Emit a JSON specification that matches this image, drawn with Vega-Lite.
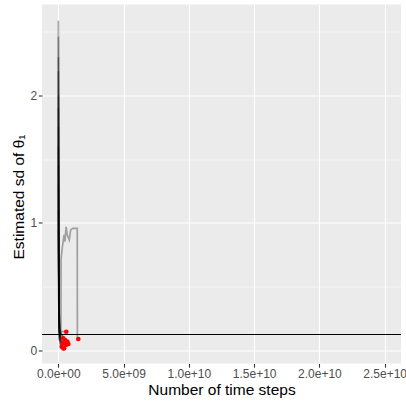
{
  "$schema": "https://vega.github.io/schema/vega-lite/v6.json",
  "width": 359,
  "height": 359,
  "autosize": {"type": "none"},
  "padding": {"left": 42, "top": 4.5, "right": 5, "bottom": 38.5},
  "background": "white",
  "config": {
    "view": {"fill": "#EBEBEB", "stroke": null},
    "font": "Liberation Sans",
    "axis": {
      "domain": false,
      "grid": true,
      "gridColor": "#FFFFFF",
      "gridOpacity": 1,
      "tickColor": "#333333",
      "tickSize": 3.7,
      "tickWidth": 1.07,
      "labelColor": "#4D4D4D",
      "labelFontSize": 12,
      "labelFont": "Liberation Sans",
      "titleFont": "Liberation Sans",
      "titleFontSize": 15.5,
      "titleFontWeight": "normal",
      "titleColor": "black",
      "labelFlush": false,
      "labelOverlap": false
    }
  },
  "datasets": {
    "runs": [
      {"run": "A", "step": 1, "x": 5000000, "y": 2.585},
      {"run": "A", "step": 2, "x": 20000000, "y": 1.4},
      {"run": "A", "step": 3, "x": 40000000, "y": 0.5},
      {"run": "A", "step": 4, "x": 80000000, "y": 0.15},
      {"run": "A", "step": 5, "x": 150000000, "y": 0.11},
      {"run": "A", "step": 6, "x": 380000000, "y": 0.096},
      {"run": "B", "step": 1, "x": 8000000, "y": 2.46},
      {"run": "B", "step": 2, "x": 25000000, "y": 1.3},
      {"run": "B", "step": 3, "x": 50000000, "y": 0.4},
      {"run": "B", "step": 4, "x": 100000000, "y": 0.12},
      {"run": "B", "step": 5, "x": 200000000, "y": 0.09},
      {"run": "B", "step": 6, "x": 510000000, "y": 0.082},
      {"run": "C", "step": 1, "x": 10000000, "y": 2.30},
      {"run": "C", "step": 2, "x": 30000000, "y": 1.1},
      {"run": "C", "step": 3, "x": 60000000, "y": 0.3},
      {"run": "C", "step": 4, "x": 100000000, "y": 0.08},
      {"run": "C", "step": 5, "x": 340000000, "y": 0.056},
      {"run": "D", "step": 1, "x": 5000000, "y": 2.19},
      {"run": "D", "step": 2, "x": 20000000, "y": 1.2},
      {"run": "D", "step": 3, "x": 50000000, "y": 0.35},
      {"run": "D", "step": 4, "x": 120000000, "y": 0.1},
      {"run": "D", "step": 5, "x": 300000000, "y": 0.06},
      {"run": "D", "step": 6, "x": 590000000, "y": 0.043},
      {"run": "E", "step": 1, "x": 10000000, "y": 2.0},
      {"run": "E", "step": 2, "x": 30000000, "y": 0.9},
      {"run": "E", "step": 3, "x": 70000000, "y": 0.2},
      {"run": "E", "step": 4, "x": 150000000, "y": 0.09},
      {"run": "E", "step": 5, "x": 400000000, "y": 0.06},
      {"run": "E", "step": 6, "x": 770000000, "y": 0.051},
      {"run": "F", "step": 1, "x": 6000000, "y": 1.9},
      {"run": "F", "step": 2, "x": 25000000, "y": 0.8},
      {"run": "F", "step": 3, "x": 60000000, "y": 0.15},
      {"run": "F", "step": 4, "x": 260000000, "y": 0.03},
      {"run": "G", "step": 1, "x": 10000000, "y": 1.75},
      {"run": "G", "step": 2, "x": 30000000, "y": 0.7},
      {"run": "G", "step": 3, "x": 80000000, "y": 0.1},
      {"run": "G", "step": 4, "x": 200000000, "y": 0.04},
      {"run": "G", "step": 5, "x": 440000000, "y": 0.017},
      {"run": "H", "step": 1, "x": 5000000, "y": 1.6},
      {"run": "H", "step": 2, "x": 20000000, "y": 0.9},
      {"run": "H", "step": 3, "x": 60000000, "y": 0.25},
      {"run": "H", "step": 4, "x": 120000000, "y": 0.12},
      {"run": "H", "step": 5, "x": 250000000, "y": 0.13},
      {"run": "H", "step": 6, "x": 510000000, "y": 0.075},
      {"run": "I", "step": 1, "x": 8000000, "y": 1.45},
      {"run": "I", "step": 2, "x": 30000000, "y": 0.6},
      {"run": "I", "step": 3, "x": 90000000, "y": 0.14},
      {"run": "I", "step": 4, "x": 250000000, "y": 0.12},
      {"run": "I", "step": 5, "x": 690000000, "y": 0.07},
      {"run": "J", "step": 1, "x": 10000000, "y": 1.3},
      {"run": "J", "step": 2, "x": 30000000, "y": 0.7},
      {"run": "J", "step": 3, "x": 70000000, "y": 0.2},
      {"run": "J", "step": 4, "x": 150000000, "y": 0.14},
      {"run": "J", "step": 5, "x": 300000000, "y": 0.15},
      {"run": "J", "step": 6, "x": 610000000, "y": 0.147},
      {"run": "K", "step": 1, "x": 5000000, "y": 1.1},
      {"run": "K", "step": 2, "x": 25000000, "y": 0.5},
      {"run": "K", "step": 3, "x": 60000000, "y": 0.1},
      {"run": "K", "step": 4, "x": 150000000, "y": 0.05},
      {"run": "K", "step": 5, "x": 380000000, "y": 0.017},
      {"run": "L", "step": 1, "x": 5000000, "y": 0.95},
      {"run": "L", "step": 2, "x": 30000000, "y": 0.4},
      {"run": "L", "step": 3, "x": 100000000, "y": 0.14},
      {"run": "L", "step": 4, "x": 200000000, "y": 0.12},
      {"run": "L", "step": 5, "x": 210000000, "y": 0.72},
      {"run": "L", "step": 6, "x": 310000000, "y": 0.81},
      {"run": "L", "step": 7, "x": 440000000, "y": 0.906},
      {"run": "L", "step": 8, "x": 510000000, "y": 0.853},
      {"run": "L", "step": 9, "x": 590000000, "y": 0.97},
      {"run": "L", "step": 10, "x": 690000000, "y": 0.906},
      {"run": "L", "step": 11, "x": 840000000, "y": 0.867},
      {"run": "L", "step": 12, "x": 950000000, "y": 0.945},
      {"run": "L", "step": 13, "x": 1100000000, "y": 0.958},
      {"run": "L", "step": 14, "x": 1450000000, "y": 0.958},
      {"run": "L", "step": 15, "x": 1460000000, "y": 0.11},
      {"run": "L", "step": 16, "x": 1530000000, "y": 0.09}
    ],
    "ends": [
      {"x": 380000000, "y": 0.096},
      {"x": 510000000, "y": 0.082},
      {"x": 340000000, "y": 0.056},
      {"x": 590000000, "y": 0.043},
      {"x": 770000000, "y": 0.051},
      {"x": 260000000, "y": 0.03},
      {"x": 440000000, "y": 0.017},
      {"x": 510000000, "y": 0.075},
      {"x": 690000000, "y": 0.07},
      {"x": 610000000, "y": 0.147},
      {"x": 380000000, "y": 0.017},
      {"x": 1530000000, "y": 0.09}
    ],
    "hline": [{"y": 0.125}]
  },
  "layer": [
    {
      "data": {"name": "runs"},
      "mark": {"type": "line", "color": "black", "opacity": 0.32, "strokeWidth": 1.7},
      "encoding": {
        "x": {
          "field": "x",
          "type": "quantitative",
          "scale": {"domain": [-1250000000, 26250000000], "nice": false, "zero": false},
          "axis": {
            "title": "Number of time steps",
            "values": [0, 2500000000, 5000000000, 7500000000, 10000000000, 12500000000, 15000000000, 17500000000, 20000000000, 22500000000, 25000000000],
            "labelExpr": "datum.value % 5000000000 === 0 ? replace(format(datum.value, '.1e'), 'e+', datum.value >= 10000000000 ? 'e+' : 'e+0') : ''",
            "gridWidth": {"condition": {"test": "datum.value % 5000000000 !== 0", "value": 0.55}, "value": 1.1},
            "tickOpacity": {"condition": {"test": "datum.value % 5000000000 !== 0", "value": 0}, "value": 1},
            "labelColor": "#4D4D4D",
            "labelPadding": 1.5,
            "titleBaseline": "alphabetic",
            "titleY": 30.5
          }
        },
        "y": {
          "field": "y",
          "type": "quantitative",
          "scale": {"domain": [-0.102, 2.713], "nice": false, "zero": false},
          "axis": {
            "title": "Estimated sd of θ₁",
            "values": [0, 0.5, 1, 1.5, 2, 2.5],
            "labelExpr": "datum.value % 1 === 0 ? format(datum.value, 'd') : ''",
            "gridWidth": {"condition": {"test": "datum.value % 1 !== 0", "value": 0.55}, "value": 1.1},
            "tickOpacity": {"condition": {"test": "datum.value % 1 !== 0", "value": 0}, "value": 1},
            "labelColor": "#4D4D4D",
            "labelPadding": 1.5,
            "titleBaseline": "alphabetic",
            "titleAngle": 270,
            "titleX": -19,
            "titleY": 192
          }
        },
        "detail": {"field": "run"},
        "order": {"field": "step", "type": "quantitative"}
      }
    },
    {
      "data": {"name": "hline"},
      "mark": {"type": "rule", "color": "black", "strokeWidth": 1.1},
      "encoding": {
        "y": {"field": "y", "type": "quantitative"}
      }
    },
    {
      "data": {"name": "ends"},
      "mark": {"type": "circle", "color": "#FF0000", "opacity": 1, "size": 22},
      "encoding": {
        "x": {"field": "x", "type": "quantitative"},
        "y": {"field": "y", "type": "quantitative"}
      }
    }
  ]
}
